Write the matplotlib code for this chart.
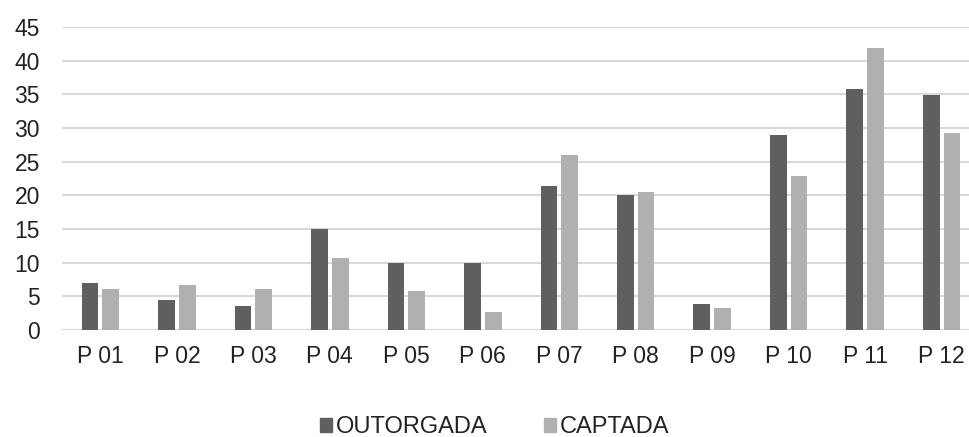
import numpy as np
import matplotlib.pyplot as plt
from matplotlib.patches import Patch

plt.rcParams['font.family'] = ['Liberation Sans', 'DejaVu Sans']

pontos = ["P 01", "P 02", "P 03", "P 04", "P 05", "P 06",
          "P 07", "P 08", "P 09", "P 10", "P 11", "P 12"]
outorgada = [7.0, 4.4, 3.5, 15.0, 9.9, 9.9, 21.4, 20.0, 3.8, 28.9, 35.8, 34.9]
captada = [6.1, 6.7, 6.1, 10.7, 5.8, 2.6, 26.0, 20.5, 3.2, 22.9, 41.9, 29.2]
yticks = np.arange(0, 50, 5)

cor_out = "#5f5f5f"
cor_cap = "#b0b0b0"

fig = plt.figure(figsize=(9.7, 4.37), dpi=100)
ax = fig.add_axes([0.064, 0.245, 0.936, 0.693])

x = np.arange(len(pontos))
largura = 0.22
ax.bar(x - 0.135, outorgada, largura, color=cor_out, zorder=3)
ax.bar(x + 0.135, captada, largura, color=cor_cap, zorder=3)

ax.set_ylim(0, 45)
ax.set_xlim(-0.5, 11.37)
ax.set_yticks(yticks)
ax.set_xticks(x)
ax.set_xticklabels(pontos)
ax.tick_params(axis="both", length=0, labelsize=16.5, colors="#222222")
ax.tick_params(axis="x", pad=11)
ax.tick_params(axis="y", pad=16)
ax.grid(axis="y", color="#d9d9d9", linewidth=1.5, zorder=0)
for lado in ["top", "right", "left", "bottom"]:
    ax.spines[lado].set_visible(False)

handles = [Patch(color=cor_out, label="OUTORGADA"),
           Patch(color=cor_cap, label="CAPTADA")]
fig.legend(handles=handles, loc="center", bbox_to_anchor=(0.51, 0.022),
           ncol=2, frameon=False, fontsize=17, handlelength=0.5,
           handleheight=0.5, handletextpad=0.15, columnspacing=2.4,
           labelcolor="#222222")

fig.savefig("out.png", dpi=100)
